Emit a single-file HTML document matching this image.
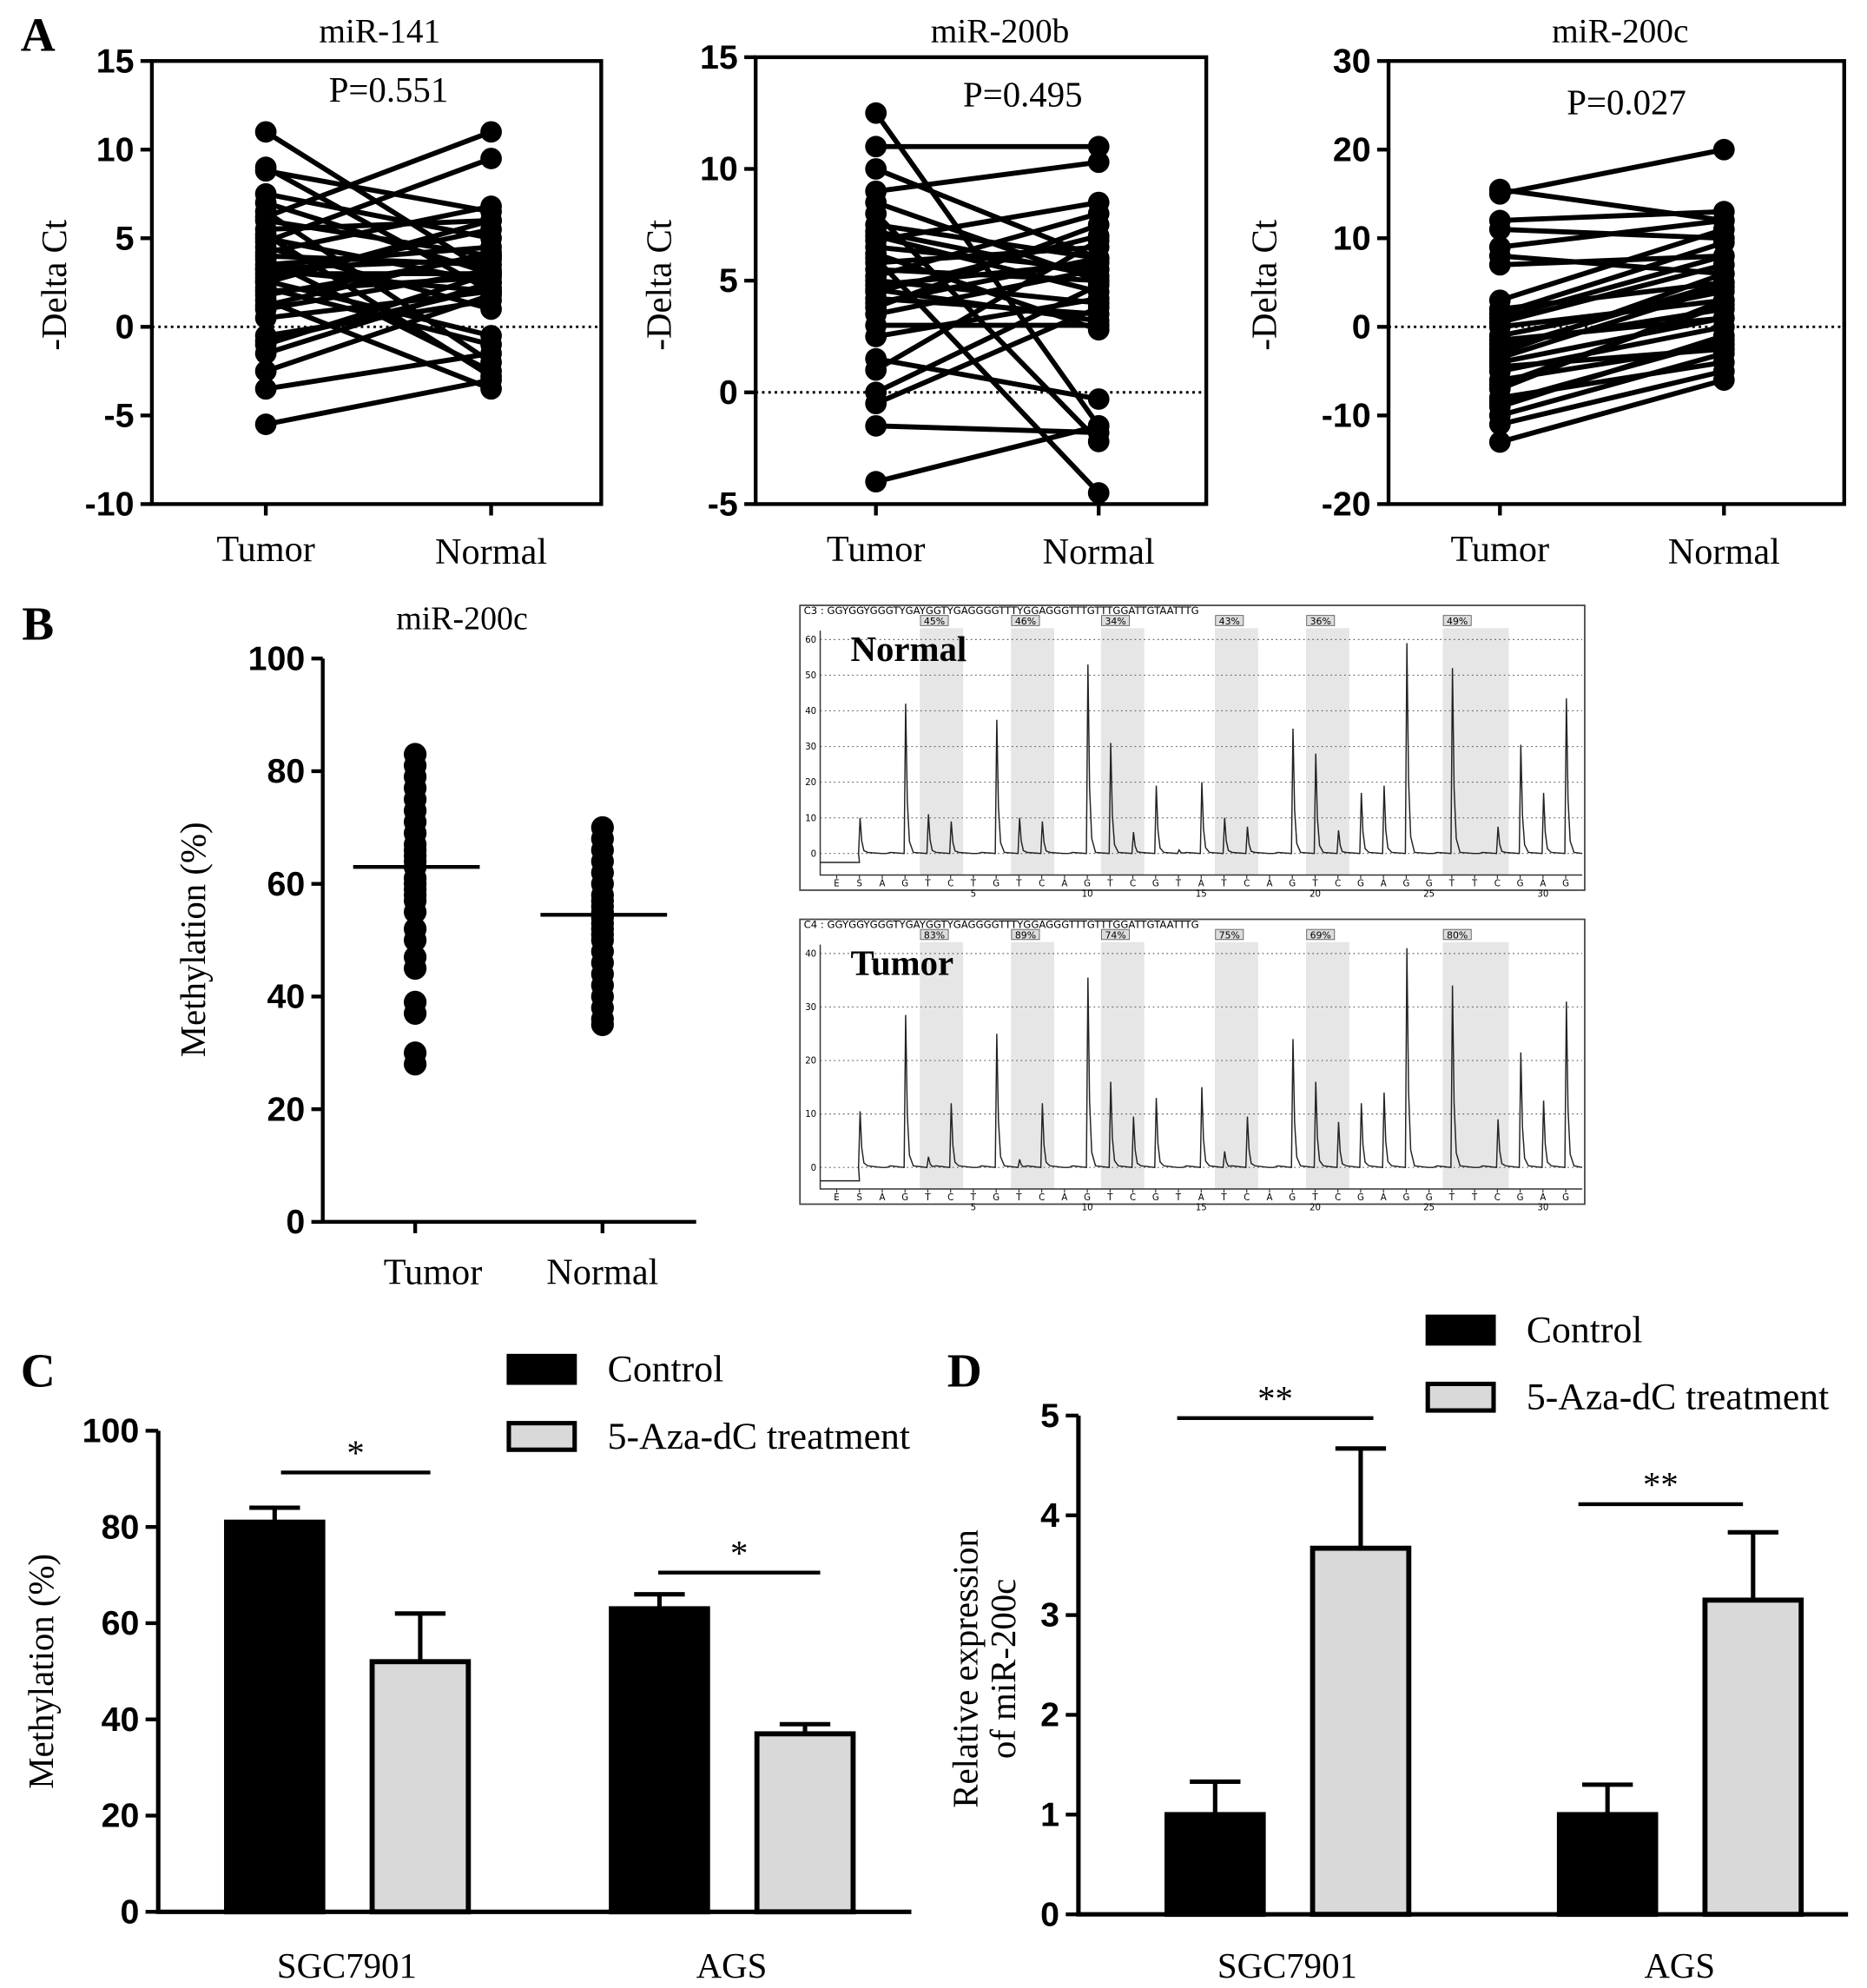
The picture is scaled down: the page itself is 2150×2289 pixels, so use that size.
<!DOCTYPE html>
<html><head><meta charset="utf-8"><style>
html,body{margin:0;padding:0;background:#fff}
svg{display:block}
text{font-family:"Liberation Serif",serif;fill:#000}
.b{font-family:"Liberation Sans",sans-serif;font-weight:bold}
.m{font-family:"DejaVu Sans",sans-serif}
</style></head><body>
<svg id="fig" xmlns="http://www.w3.org/2000/svg" width="2150" height="2289" viewBox="0 0 1475 1570"></svg>
<script>
// ---- Panel A data ----
const a1Tumor=[11,9,8.8,7.5,7,6.5,6,5.5,5,4.5,4,3.8,3.5,3.2,3,2.8,2.5,2.2,2,1.8,1.5,1,0.5,-0.5,-1,-1.5,-2.5,-3.5,-5.5,6.2,4.8,3.3,2.6,1.2,-0.8,5.2,4.2];
const a1Normal=[3,2,6.5,5,3,-2,4,6,2.5,1,3.5,-2.5,4.5,2,3,5.5,6,-1,2.8,4,-3.5,3.2,2,1.5,3,2.5,1.8,-1.5,-3,11,9.5,3.8,-0.5,4.2,2.2,-2.8,6.8];
const a2Tumor=[12.5,11,10,9,8.5,8,7.5,7,6.8,6.5,6,5.8,5.5,5,4.8,4.5,4.2,4,3.5,3,2.5,1.5,1,0,-0.5,-1.5,-4,6.2,5.2,7.2,4.6,3.8];
const a2Normal=[-1.5,11,6,10.3,5,-2.2,6,4.5,8.5,5.5,-4.5,6.5,5,4,5.8,7,3.5,6,5.5,3,4.2,-0.3,6.8,4.8,3.8,-1.8,-1.5,2.8,8,5.2,3.2,7.5];
const a3Tumor=[15.5,15,12,11,9,8,7,3,2,1,0,-1,-2,-3,-4,-5,-6,-7,-8,-9,-10,-11,-13,1.5,-2.5,-4.5,-6.5,0.5,-8.5,-1.5,-3.5];
const a3Normal=[12,20,13,10,12,6,8,11,5,8,3,4,2,6,1,0,-2,3,-4,-1,-3,-5,-6,9.5,5,-2.5,2.5,7,-1.5,1,4.5];
const a1Ticks=[15,10,5,0,-5,-10];
const a2Ticks=[15,10,5,0,-5];
const a3Ticks=[30,20,10,0,-10,-20];
// ---- Panel B data ----
const bTumor=[83,81,79,77,75,73,71,69,67,65,63,61,59,57,55,52,50,47,45,39,37,30,28,64,66,60,58];
const bNormal=[70,68,66,64,62,60,58,56,54,52,50,48,46,44,42,40,38,36,35,55,57,53,51];
const bMeans=[63,54.5];
const bTicks=[100,80,60,40,20,0];
// ---- Pyrograms ----
const dispense=["E","S","A","G","T","C","T","G","T","C","A","G","T","C","G","T","A","T","C","A","G","T","C","G","A","G","G","T","T","C","G","A","G"];
const normalPeaks=[0,10,0,42,11,9,0,37.5,10,9,0,53,31,6,19,1,20,10,7.5,0,35,28,6.5,17,19,59,0,52,0,7.5,30.5,17,43.5];
const tumorPeaks=[0,10.5,0,28.5,2,12,0,25,1.5,12,0,35.5,16,9.5,13,0,15,3,9.5,0,24,16,8.5,12,14,41,0,34,0,9,21.5,12.5,31];
const normalPct=["45%","46%","34%","43%","36%","49%"];
const tumorPct=["83%","89%","74%","75%","69%","80%"];
const bandStart=[3.65,7.65,11.6,16.6,20.6,26.6];
const bandEnd=[5.55,9.55,13.5,18.5,22.5,29.5];
// ---- Panel C/D data ----
const cellLines=["SGC7901","AGS"];
const cControl=[81,63], cControlErr=[3,3], cTreat=[52,37], cTreatErr=[10,2];
const dControl=[1,1], dControlErr=[0.33,0.3], dTreat=[3.67,3.15], dTreatErr=[1.0,0.68];
const cTicks=[100,80,60,40,20,0];
const dTicks=[5,4,3,2,1,0];

const svg=document.getElementById('fig');
const NS='http://www.w3.org/2000/svg';
function el(tag,attrs,parent){const e=document.createElementNS(NS,tag);for(const k in attrs)e.setAttribute(k,attrs[k]);(parent||svg).appendChild(e);return e;}
function txt(s,x,y,size,attrs,parent){const t=el('text',Object.assign({x:x,y:y,'font-size':size},attrs||{}),parent);t.textContent=s;return t;}

// ---------- Panel letters ----------
[["A",30,40],["B",30,505],["C",30,1095],["D",762,1095]].forEach(p=>{
  const t=txt(p[0],p[1],p[2],38,{'font-weight':'bold','text-anchor':'middle'});
  
  
});

// ---------- Panel A ----------
function pairedPanel(cfg){
  const g=el('g',{});
  
  
  const y=v=>cfg.top+(cfg.max-v)/(cfg.max-cfg.min)*(cfg.bottom-cfg.top);
  const box=el('rect',{x:cfg.left,y:cfg.top,width:cfg.right-cfg.left,height:cfg.bottom-cfg.top,fill:'none',stroke:'#000','stroke-width':3},g);
  
  
  cfg.ticks.forEach(t=>{
    const l=el('line',{x1:cfg.left-9,x2:cfg.left,y1:y(t),y2:y(t),stroke:'#000','stroke-width':3},g);
    
    
    const lb=txt(String(t),cfg.left-14,y(t)+9,27,{'text-anchor':'end','class':'b'},g);
    
    
  });
  [cfg.xT,cfg.xN].forEach(x=>{const l=el('line',{x1:x,x2:x,y1:cfg.bottom,y2:cfg.bottom+9,stroke:'#000','stroke-width':3},g);
    
    });
  const z=el('line',{x1:cfg.left,x2:cfg.right,y1:y(0),y2:y(0),stroke:'#000','stroke-width':2,'stroke-dasharray':'2,3'},g);
  
  
  cfg.tumor.forEach((tv,i)=>{
    const nv=cfg.normal[i];
    const l=el('line',{x1:cfg.xT,y1:y(tv),x2:cfg.xN,y2:y(nv),stroke:'#000','stroke-width':4},g);
    
    
  });
  cfg.tumor.forEach((tv,i)=>{
    const c1=el('circle',{cx:cfg.xT,cy:y(tv),r:8.5,fill:'#000'},g);
    
    
    const c2=el('circle',{cx:cfg.xN,cy:y(cfg.normal[i]),r:8.5,fill:'#000'},g);
    
    
  });
  const t1=txt('Tumor',cfg.xT,443,29,{'text-anchor':'middle'},g);
  
  
  const t2=txt('Normal',cfg.xN,445,29,{'text-anchor':'middle'},g);
  
  
  const tt=txt(cfg.title,cfg.titleX,33,27,{'text-anchor':'middle'},g);
  
  
  const p=txt(cfg.p,cfg.pX,cfg.pY,28,{'text-anchor':'middle'},g);
  
  
  const yl=txt('-Delta Ct',0,0,28,{'text-anchor':'middle',transform:`translate(${cfg.ylX},225) rotate(-90)`},g);
  
  
}
pairedPanel({name:'panel-a-mir141',left:120,right:475,top:48,bottom:398,min:-10,max:15,ticks:a1Ticks,xT:210,xN:388,tumor:a1Tumor,normal:a1Normal,title:'miR-141',titleX:300,p:'P=0.551',pX:307,pY:80,ylX:52});
pairedPanel({name:'panel-a-mir200b',left:597,right:953,top:45,bottom:398,min:-5,max:15,ticks:a2Ticks,xT:692,xN:868,tumor:a2Tumor,normal:a2Normal,title:'miR-200b',titleX:790,p:'P=0.495',pX:808,pY:84,ylX:530});
pairedPanel({name:'panel-a-mir200c',left:1097,right:1457,top:48,bottom:398,min:-20,max:30,ticks:a3Ticks,xT:1185,xN:1362,tumor:a3Tumor,normal:a3Normal,title:'miR-200c',titleX:1280,p:'P=0.027',pX:1285,pY:90,ylX:1008});

// ---------- Panel B scatter ----------
(function(){
  const g=el('g',{});
  
  
  const L=255,T=520,B=965,R=550;
  const y=v=>B-v/100*(B-T);
  const ax=el('path',{d:`M${L},${T} L${L},${B} L${R},${B}`,fill:'none',stroke:'#000','stroke-width':3},g);
  
  
  bTicks.forEach(t=>{
    const l=el('line',{x1:L-9,x2:L,y1:y(t),y2:y(t),stroke:'#000','stroke-width':3},g);
    
    
    const lb=txt(String(t),L-14,y(t)+9,27,{'text-anchor':'end','class':'b'},g);
    
    
  });
  const xs=[328,476];
  xs.forEach(x=>{const l=el('line',{x1:x,x2:x,y1:B,y2:B+9,stroke:'#000','stroke-width':3},g);
    
    });
  [bTumor,bNormal].forEach((arr,k)=>{
    arr.forEach(v=>{const c=el('circle',{cx:xs[k],cy:y(v),r:9,fill:'#000'},g);
      
      });
    const m=el('line',{x1:xs[k]-49,x2:xs[k]+51,y1:y(bMeans[k]),y2:y(bMeans[k]),stroke:'#000','stroke-width':3},g);
    
    
  });
  const a=txt('Tumor',342,1014,29,{'text-anchor':'middle'},g);
  
  
  const b=txt('Normal',476,1014,29,{'text-anchor':'middle'},g);
  
  
  const t=txt('miR-200c',365,497,26,{'text-anchor':'middle'},g);
  
  
  const yl=txt('Methylation (%)',0,0,28,{'text-anchor':'middle',transform:'translate(162,742) rotate(-90)'},g);
  
  
})();

// ---------- Pyrograms ----------
function pyrogram(cfg){
  const g=el('g',{});
  
  
  const X0=cfg.x, Y0=cfg.y;
  const fr=el('rect',{x:X0,y:Y0,width:620,height:225,fill:'#fff',stroke:'#444','stroke-width':1.2},g);
  
  
  const pl=X0+16, pr=X0+618, zeroY=Y0+196, topY=Y0+27, bot=Y0+213;
  const y=v=>zeroY-v/cfg.max*(zeroY-topY);
  const px=i=>X0+29+i*18.0;
  bandStart.forEach((s,k)=>{
    const r=el('rect',{x:px(s),y:Y0+18,width:(bandEnd[k]-s)*18,height:bot-Y0-18,fill:'#e6e6e6'},g);
    
    
    const pb=el('rect',{x:px(s)+0.5,y:Y0+8,width:22,height:8,fill:'#ddd',stroke:'#555','stroke-width':0.6},g);
    
    
    const pt=txt(cfg.pct[k],px(s)+11.5,Y0+15,7.5,{'text-anchor':'middle','class':'m'},g);
    
    
  });
  cfg.ticks.forEach(t=>{
    const l=el('line',{x1:pl,x2:pr,y1:y(t),y2:y(t),stroke:'#666','stroke-width':0.8,'stroke-dasharray':'1.2,2.4'},g);
    
    
    const lb=txt(String(t),pl-3,y(t)+2.5,7,{'text-anchor':'end','class':'m'},g);
    
    
  });
  const ax=el('path',{d:`M${pl},${Y0+20} L${pl},${bot} L${pr},${bot}`,fill:'none',stroke:'#333','stroke-width':1},g);
  
  
  let d=`M${pl},${y(-2.5)} L${px(1)},${y(-2.5)}`;
  cfg.peaks.forEach((h,i)=>{
    if(i===0)return;
    const x=px(i)+0.5;
    d+=` L${x-1.2},${y(0)} L${x},${y(h)} L${x+1.3},${y(h*0.35)} L${x+3},${y(h*0.08)} L${x+6},${y(0.3)}`;
  });
  d+=` L${pr},${y(0)}`;
  const tr=el('path',{d:d,fill:'none',stroke:'#222','stroke-width':1},g);
  
  
  dispense.forEach((c,i)=>{
    const tk=el('line',{x1:px(i),x2:px(i),y1:bot,y2:bot+3,stroke:'#333','stroke-width':0.8},g);
    
    
    const lb=txt(c,px(i),bot+9,7,{'text-anchor':'middle','class':'m'},g);
    
    
    if(i>=6 && (i-1)%5===0){
      const n=txt(String(i-1),px(i),bot+17,7,{'text-anchor':'middle','class':'m'},g);
      
      
    }
  });
  const hd=txt(cfg.header,X0+3,Y0+7,8,{'class':'m'},g);
  
  
  const lab=txt(cfg.label,X0+40,Y0+44,28,{'font-weight':'bold'},g);
  
  
}
pyrogram({name:'pyrogram-normal',x:632,y:478,max:60,ticks:[0,10,20,30,40,50,60],peaks:normalPeaks,pct:normalPct,label:'Normal',header:'C3 : GGYGGYGGGTYGAYGGTYGAGGGGTTTYGGAGGGTTTGTTTGGATTGTAATTTG'});
pyrogram({name:'pyrogram-tumor',x:632,y:726,max:40,ticks:[0,10,20,30,40],peaks:tumorPeaks,pct:tumorPct,label:'Tumor',header:'C4 : GGYGGYGGGTYGAYGGTYGAGGGGTTTYGGAGGGTTTGTTTGGATTGTAATTTG'});

// ---------- Bar panels ----------
function barPanel(cfg){
  const g=el('g',{});
  
  
  const y=v=>cfg.bottom-v/cfg.max*(cfg.bottom-cfg.top);
  const ax=el('path',{d:`M${cfg.left},${cfg.top} L${cfg.left},${cfg.bottom} L${cfg.right},${cfg.bottom}`,fill:'none',stroke:'#000','stroke-width':3.5},g);
  
  
  cfg.ticks.forEach(t=>{
    const l=el('line',{x1:cfg.left-10,x2:cfg.left,y1:y(t),y2:y(t),stroke:'#000','stroke-width':3},g);
    
    
    const lb=txt(String(t),cfg.left-15,y(t)+9,27,{'text-anchor':'end','class':'b'},g);
    
    
  });
  cfg.groups.forEach((gx,i)=>{
    [[cfg.ctrl,cfg.ctrlErr,'#000',0],[cfg.trt,cfg.trtErr,'#d9d9d9',115]].forEach(s=>{
      const x=gx+s[3], v=s[0][i], e=s[1][i];
      const eb=el('path',{d:`M${x+40},${y(v)} L${x+40},${y(v+e)} M${x+20},${y(v+e)} L${x+60},${y(v+e)}`,stroke:'#000','stroke-width':3.5,fill:'none'},g);
      
      
      const r=el('rect',{x:x+2,y:y(v),width:76,height:cfg.bottom-y(v),fill:s[2],stroke:'#000','stroke-width':4},g);
      
      
    });
    const lb=txt(cellLines[i],gx+97,1562,28,{'text-anchor':'middle'},g);
    
    
  });
  cfg.sig.forEach(s=>{
    const l=el('line',{x1:s[0],x2:s[1],y1:s[2],y2:s[2],stroke:'#000','stroke-width':3},g);
    
    
    const t=txt(s[3],(s[0]+s[1])/2,s[2]-6,28,{'text-anchor':'middle'},g);
    
    
  });
  const lg=el('g',{},g);
  
  
  [['Control','#000',0],['5-Aza-dC treatment','#d9d9d9',53]].forEach(it=>{
    const r=el('rect',{x:cfg.legX,y:cfg.legY+it[2],width:52,height:21,fill:it[1],stroke:'#000','stroke-width':3.5},lg);
    
    
    const t=txt(it[0],cfg.legX+78,cfg.legY+it[2]+20,30,{},lg);
    
    
  });
  cfg.ylab.forEach((s,k)=>{
    const t=txt(s,0,0,28,{'text-anchor':'middle',transform:`translate(${cfg.ylX+k*30},${cfg.ylY}) rotate(-90)`},g);
    
    
  });
}
barPanel({name:'panel-c-bars',left:125,right:720,top:1130,bottom:1510,max:100,ticks:cTicks,groups:[177,481],ctrl:cControl,ctrlErr:cControlErr,trt:cTreat,trtErr:cTreatErr,
  sig:[[222,340,1163,'*'],[520,648,1242,'*']],legX:402,legY:1071,ylab:['Methylation (%)'],ylX:42,ylY:1320});
barPanel({name:'panel-d-bars',left:852,right:1460,top:1118,bottom:1512,max:5,ticks:dTicks,groups:[920,1230],ctrl:dControl,ctrlErr:dControlErr,trt:dTreat,trtErr:dTreatErr,
  sig:[[930,1085,1120,'**'],[1247,1377,1188,'**']],legX:1128,legY:1040,ylab:['Relative expression','of miR-200c'],ylX:772,ylY:1318});
</script>
</body></html>
